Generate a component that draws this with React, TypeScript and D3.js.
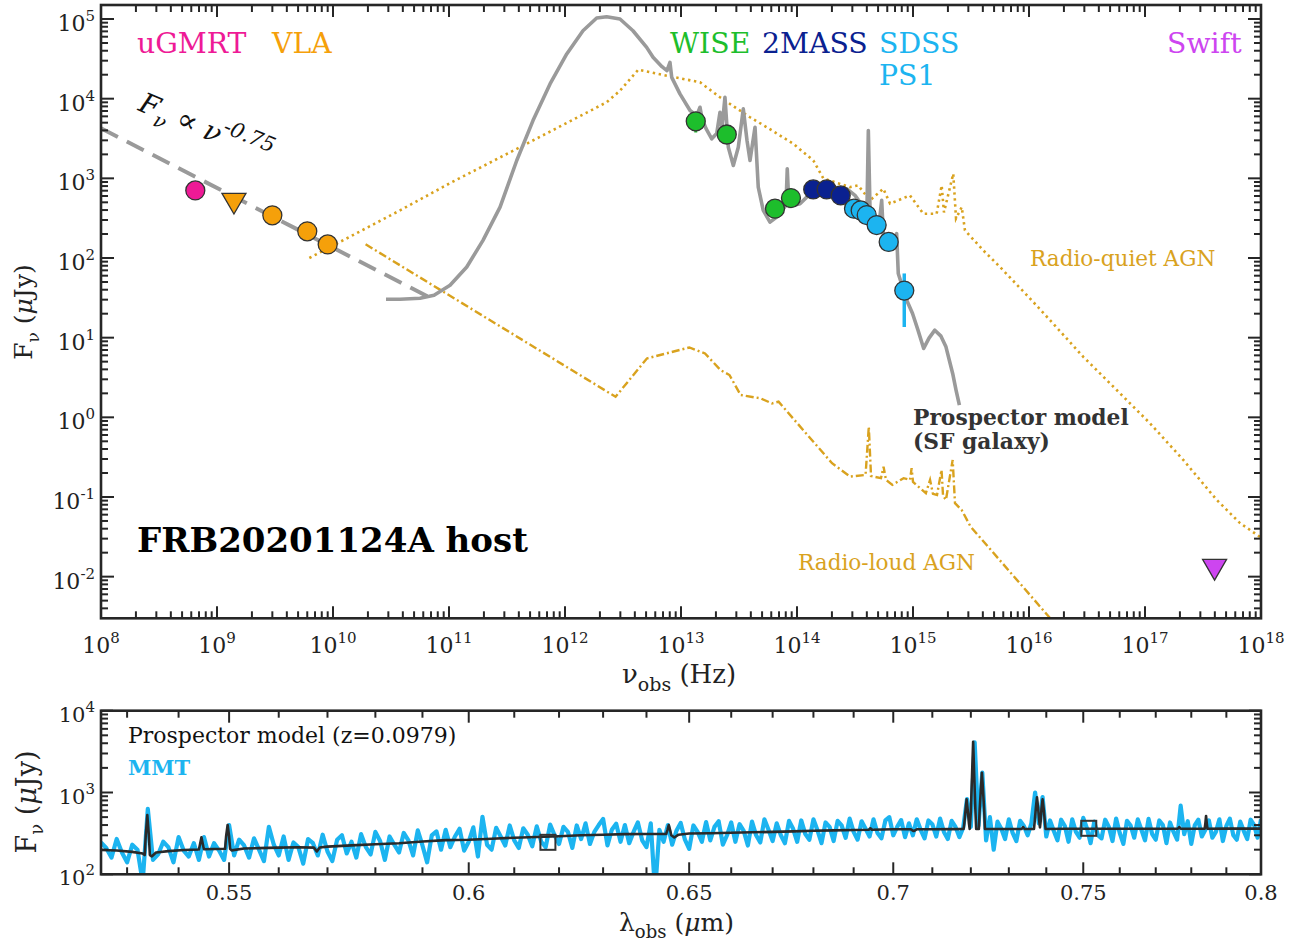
import React from 'react';
import * as d3 from 'd3';

const FONT = "'DejaVu Serif', serif";
const AXIS = '#262626';
const GOLD = '#D9A21E';

// ---- top panel photometry (nu in Hz, flux in uJy)
const uGMRT = [{ nu: 6.5e8, f: 705 }];
const vlaLimit = [{ nu: 1.4e9, f: 480 }];
const vla = [{ nu: 3e9, f: 343 }, { nu: 6e9, f: 216 }, { nu: 9e9, f: 148 }];
const wise = [
  { nu: 1.34e13, f: 5200, lo: 3750, hi: 6650 },
  { nu: 2.48e13, f: 3550 },
  { nu: 6.46e13, f: 416 },
  { nu: 8.87e13, f: 565 },
];
const twoMass = [{ nu: 1.38e14, f: 726 }, { nu: 1.8e14, f: 726 }, { nu: 2.38e14, f: 611 }];
const sdssPs1 = [
  { nu: 3.1e14, f: 416 },
  { nu: 3.54e14, f: 396 },
  { nu: 3.99e14, f: 346 },
  { nu: 4.86e14, f: 259 },
  { nu: 6.17e14, f: 159 },
  { nu: 8.41e14, f: 39, lo: 13.6, hi: 64 },
];
const swiftLimit = [{ nu: 3.98e17, f: 0.0122 }];

// F_nu ∝ nu^-0.75 end points
const powerLaw: [number, number][] = [[1e8, 4256], [7.6e10, 29.4]];

// Prospector SF galaxy model, [log10 nu, log10 F]
const sfModel: [number, number][] = [
  [10.457, 1.482], [10.578, 1.482], [10.75, 1.495], [10.871, 1.532], [11.009, 1.657], [11.153, 1.887],
  [11.293, 2.222], [11.44, 2.639], [11.584, 3.224], [11.724, 3.725], [11.871, 4.185], [12.015, 4.561],
  [12.155, 4.853], [12.273, 5.013], [12.359, 5.029], [12.474, 5.0], [12.586, 4.853], [12.704, 4.644],
  [12.759, 4.519], [12.836, 4.402], [12.879, 4.352], [12.905, 4.456], [12.92, 4.268], [12.991, 4.06],
  [13.078, 3.851], [13.135, 3.788], [13.164, 3.892], [13.181, 3.751], [13.216, 3.625], [13.265, 3.496],
  [13.308, 3.563], [13.336, 3.83], [13.353, 3.625], [13.379, 4.018], [13.408, 3.391], [13.451, 3.162],
  [13.494, 3.391], [13.537, 3.872], [13.569, 3.475], [13.595, 3.224], [13.638, 3.642], [13.666, 2.89],
  [13.709, 2.598], [13.767, 2.451], [13.825, 2.514], [13.905, 2.66], [13.916, 3.12], [13.931, 2.648],
  [14.026, 2.682], [14.084, 2.764], [14.141, 2.848], [14.284, 2.873], [14.428, 2.87], [14.5, 2.786],
  [14.572, 2.639], [14.603, 2.598], [14.615, 3.6], [14.629, 2.639], [14.687, 2.472], [14.716, 2.535],
  [14.73, 2.723], [14.744, 2.306], [14.787, 2.138], [14.836, 2.222], [14.859, 2.306], [14.873, 1.805],
  [14.946, 1.47], [14.996, 1.303], [15.043, 1.094], [15.092, 0.865], [15.138, 0.994], [15.188, 1.094],
  [15.241, 1.019], [15.284, 0.885], [15.342, 0.551], [15.371, 0.342], [15.4, 0.154],
];

// radio-quiet AGN template, [log10 nu, log10 F]
const rqAgn: [number, number][] = [
  [9.796, 2.0], [10.578, 2.598], [11.009, 2.94], [11.612, 3.391], [12.359, 3.955], [12.474, 4.101],
  [12.632, 4.365], [12.877, 4.289], [13.164, 4.206], [13.336, 4.018], [13.595, 3.767], [13.739, 3.642],
  [13.968, 3.434], [14.141, 3.224], [14.227, 2.999], [14.457, 2.89], [14.528, 2.911], [14.629, 2.723],
  [14.744, 2.87], [14.802, 2.682], [14.974, 2.786], [15.089, 2.556], [15.204, 2.556], [15.247, 2.911],
  [15.267, 2.573], [15.347, 3.058], [15.371, 2.497], [15.42, 2.639], [15.448, 2.347], [15.606, 2.096],
  [15.75, 1.887], [16.023, 1.47], [16.181, 1.22], [16.468, 0.759], [16.756, 0.343], [17.043, -0.075],
  [17.33, -0.535], [17.618, -1.036], [17.819, -1.328], [17.991, -1.5],
];

// radio-loud AGN template, [log10 nu, log10 F]
const rlAgn: [number, number][] = [
  [10.281, 2.172], [12.436, 0.258], [12.706, 0.739], [13.072, 0.877], [13.207, 0.802], [13.341, 0.593],
  [13.418, 0.531], [13.514, 0.28], [13.687, 0.238], [13.784, 0.175], [13.841, 0.196], [14.302, -0.576],
  [14.457, -0.744], [14.591, -0.723], [14.619, -0.118], [14.638, -0.736], [14.724, -0.764], [14.746, -0.619],
  [14.767, -0.786], [14.822, -0.848], [14.919, -0.764], [14.974, -0.786], [14.988, -0.639], [15.0, -0.811],
  [15.111, -0.952], [15.147, -0.786], [15.172, -0.961], [15.207, -0.974], [15.246, -0.66], [15.259, -0.986],
  [15.284, -1.036], [15.342, -0.535], [15.362, -1.078], [15.419, -1.162], [15.496, -1.371], [16.181, -2.519],
  [16.612, -3.24],
];

// ---- bottom panel: MMT spectrum on a 0.001 um grid starting at 0.525 um
const mmtStart = 0.525;
const mmtFlux = [
  245, 210, 160, 270, 185, 140, 230, 200, 80, 630,
  150, 175, 250, 215, 140, 285, 195, 165, 240, 150,
  285, 165, 240, 195, 150, 400, 170, 265, 225, 160,
  275, 200, 145, 380, 230, 170, 290, 150, 245, 215,
  135, 270, 240, 170, 305, 190, 145, 265, 300, 180,
  250, 160, 310, 215, 175, 330, 255, 150, 290, 230,
  185, 320, 260, 170, 345, 225, 140, 300, 335, 200,
  350, 215, 290, 360, 195, 250, 375, 165, 505, 230,
  200, 370, 290, 225, 395, 260, 210, 365, 305, 220,
  385, 250, 215, 405, 300, 235, 380, 330, 210, 395,
  270, 420, 235, 330, 400, 475, 225, 350, 415, 250,
  400, 240, 330, 430, 260, 215, 420, 60, 350, 250,
  400, 230, 340, 425, 265, 205, 395, 330, 250, 435,
  260, 380, 445, 230, 300, 430, 250, 410, 340, 225,
  440, 300, 245, 470, 350, 255, 420, 300, 240, 450,
  360, 250, 455, 310, 265, 470, 345, 240, 430, 380,
  255, 450, 395, 280, 480, 330, 265, 445, 360, 290,
  470, 320, 275, 455, 500, 300, 380, 460, 285, 420,
  300, 470, 350, 275, 455, 410, 290, 480, 330, 270,
  450, 380, 285, 370, 830, 380, 4100, 390, 1750, 260,
  500, 200, 440, 360, 270, 470, 320, 255, 450, 390,
  300, 420, 1000, 420, 880, 290, 455, 340, 260, 465,
  390, 250, 470, 330, 280, 490, 365, 240, 440, 300,
  275, 465, 380, 255, 480, 320, 235, 450, 395, 280,
  470, 350, 260, 475, 310, 265, 455, 400, 240, 430,
  330, 265, 690, 310, 445, 235, 400, 465, 290, 350,
  455, 280, 330, 470, 255, 390, 480, 300, 265, 440,
  340, 270, 465, 400, 280, 470,
];

// Prospector model spectrum, [lambda um, F uJy]
const prospectorSpec: [number, number][] = [
  [0.525, 198], [0.528, 195], [0.531, 188], [0.533, 180], [0.5334, 172], [0.5336, 300], [0.5339, 531],
  [0.5342, 300], [0.5344, 172], [0.5348, 166], [0.5356, 185], [0.538, 192], [0.541, 198], [0.544, 201],
  [0.5442, 230], [0.5445, 283], [0.5448, 230], [0.545, 202], [0.547, 204], [0.5492, 205], [0.5494, 290],
  [0.5497, 401], [0.55, 290], [0.5502, 205], [0.5505, 196], [0.553, 207], [0.556, 209], [0.56, 212],
  [0.564, 214], [0.5672, 212], [0.5678, 190], [0.5684, 213], [0.57, 218], [0.575, 226], [0.58, 233],
  [0.585, 240], [0.59, 252], [0.595, 262], [0.6, 265], [0.605, 272], [0.61, 280], [0.615, 286],
  [0.62, 292], [0.625, 300], [0.63, 305], [0.635, 310], [0.64, 311], [0.6446, 312], [0.6449, 350],
  [0.6452, 400], [0.6455, 350], [0.6458, 300], [0.6465, 282], [0.6475, 305], [0.65, 315], [0.655, 318],
  [0.66, 322], [0.665, 326], [0.67, 330], [0.675, 335], [0.68, 340], [0.685, 344], [0.69, 348],
  [0.6938, 350], [0.6942, 365], [0.6946, 350], [0.7, 355], [0.7045, 355], [0.7052, 338], [0.706, 355],
  [0.71, 356], [0.715, 357], [0.7181, 358], [0.7183, 420], [0.7186, 600], [0.7189, 826], [0.7192, 600],
  [0.7195, 420], [0.7197, 358], [0.72, 585], [0.7203, 1560], [0.7206, 4180], [0.7209, 1560], [0.7212, 585],
  [0.7214, 358], [0.7221, 358], [0.7223, 600], [0.7226, 1050], [0.7229, 1746], [0.7232, 1050], [0.7235, 600],
  [0.7237, 358], [0.726, 358], [0.73, 358], [0.7334, 358], [0.7338, 378], [0.7342, 358], [0.7367, 358],
  [0.7369, 450], [0.7372, 650], [0.7375, 873], [0.7378, 650], [0.7381, 450], [0.7383, 375], [0.7385, 450],
  [0.7387, 630], [0.739, 826], [0.7393, 630], [0.7396, 450], [0.7398, 358], [0.745, 360], [0.75, 360],
  [0.76, 360], [0.77, 360], [0.7762, 360], [0.7766, 378], [0.777, 360], [0.7838, 360], [0.784, 420],
  [0.7842, 517], [0.7844, 420], [0.7846, 360], [0.79, 362], [0.8, 362],
];

// broadband points on the spectrum (r, i)
const specPhot = [{ lam: 0.6175, f: 246 }, { lam: 0.7515, f: 365 }];

const C = {
  ugmrt: '#EE1A96', vla: '#F5A00A', wise: '#1DBE2C', twomass: '#0A2190',
  sdss: '#1CB4F0', swift: '#CD45F0', gray: '#9A9A9A',
};

const Pow = ({ e, size = 22, sup = 15 }: { e: number | string; size?: number; sup?: number }) => (
  <>
    10<tspan dy={-size * 0.45} fontSize={sup}>{e}</tspan>
  </>
);

export default function App() {
  // top panel geometry
  const L = 101, R = 1261, T = 5, B = 618.3;
  const x = d3.scaleLog().domain([1e8, 1e18]).range([L, R]);
  const y = d3.scaleLog().domain([3e-3, 1.5e5]).range([B, T]);
  // bottom panel geometry
  const T2 = 710.7, B2 = 874.3;
  const x2 = d3.scaleLog().domain([0.525, 0.8]).range([L, R]);
  const y2 = d3.scaleLog().domain([100, 10000]).range([B2, T2]);

  const logLine = d3.line<[number, number]>().x(d => x(10 ** d[0])).y(d => y(10 ** d[1]));
  const linLine = d3.line<[number, number]>().x(d => x(d[0])).y(d => y(d[1]));
  const specLine = d3.line<[number, number]>().x(d => x2(d[0])).y(d => y2(d[1]));

  const mmt: [number, number][] = mmtFlux.map((f, i) => [mmtStart + i * 0.001, f]);

  const xMaj = d3.range(8, 19).map(e => 10 ** e);
  const xMin: number[] = [];
  d3.range(8, 18).forEach(e => d3.range(2, 10).forEach(m => xMin.push(m * 10 ** e)));
  const yMajE = d3.range(-2, 6);
  const yMin: number[] = [];
  d3.range(-3, 6).forEach(e => d3.range(2, 10).forEach(m => {
    const v = m * 10 ** e;
    if (v > 3e-3 && v < 1.5e5) yMin.push(v);
  }));

  const y2MajE = [2, 3, 4];
  const y2Min: number[] = [];
  [2, 3].forEach(e => d3.range(2, 10).forEach(m => y2Min.push(m * 10 ** e)));
  const x2Maj = [0.55, 0.6, 0.65, 0.7, 0.75, 0.8];
  const x2Min = d3.range(53, 80).filter(v => v % 5 !== 0).map(v => v / 100);

  const tri = (cx: number, cy: number, s: number) =>
    `M${cx - s / 2},${cy - s * 0.43}L${cx + s / 2},${cy - s * 0.43}L${cx},${cy + s * 0.43}Z`;

  const circles = (data: { nu: number; f: number }[], fill: string) =>
    data.map((d, i) => (
      <circle key={i} cx={x(d.nu)} cy={y(d.f)} r={9.5} fill={fill} stroke="#333" strokeWidth={1.3} />
    ));

  return (
    <svg width={1302} height={944} style={{ position: 'absolute', left: 0, top: 0, background: '#fff' }}
      fontFamily={FONT}>
      <defs>
        <clipPath id="clipTop"><rect x={L} y={T} width={R - L} height={B - T} /></clipPath>
        <clipPath id="clipBot"><rect x={L} y={T2} width={R - L} height={B2 - T2} /></clipPath>
      </defs>

      {/* ===== top panel ===== */}
      <g clipPath="url(#clipTop)">
        <path d={logLine(rqAgn) || ''} fill="none" stroke={GOLD} strokeWidth={2.6} strokeDasharray="2.4 3.6" />
        <path d={logLine(rlAgn) || ''} fill="none" stroke={GOLD} strokeWidth={2.4} strokeDasharray="8 3 2 3" />
        <path d={linLine(powerLaw) || ''} fill="none" stroke={C.gray} strokeWidth={4} strokeDasharray="19 10" />
        <path d={logLine(sfModel) || ''} fill="none" stroke={C.gray} strokeWidth={3.6} strokeLinejoin="round" />
        {wise.filter(d => d.lo).map((d, i) => (
          <line key={i} x1={x(d.nu)} x2={x(d.nu)} y1={y(d.lo!)} y2={y(d.hi!)} stroke={C.wise} strokeWidth={3} />
        ))}
        {sdssPs1.filter(d => d.lo).map((d, i) => (
          <line key={i} x1={x(d.nu)} x2={x(d.nu)} y1={y(d.lo!)} y2={y(d.hi!)} stroke={C.sdss} strokeWidth={3.5} />
        ))}
        {circles(uGMRT, C.ugmrt)}
        {vlaLimit.map((d, i) => (
          <path key={i} d={tri(x(d.nu), y(d.f), 24)} fill={C.vla} stroke="#333" strokeWidth={1.3} />
        ))}
        {circles(vla, C.vla)}
        {circles(wise, C.wise)}
        {circles(twoMass, C.twomass)}
        {circles(sdssPs1, C.sdss)}
        {swiftLimit.map((d, i) => (
          <path key={i} d={tri(x(d.nu), y(d.f), 24)} fill={C.swift} stroke="#333" strokeWidth={1.3} />
        ))}
      </g>

      {/* ticks top panel */}
      <g stroke={AXIS} strokeWidth={2}>
        {xMaj.map(v => (
          <g key={'xM' + v}>
            <line x1={x(v)} x2={x(v)} y1={B} y2={B - 12} />
            <line x1={x(v)} x2={x(v)} y1={T} y2={T + 12} />
          </g>
        ))}
        {xMin.map(v => (
          <g key={'xm' + v}>
            <line x1={x(v)} x2={x(v)} y1={B} y2={B - 7} />
            <line x1={x(v)} x2={x(v)} y1={T} y2={T + 7} />
          </g>
        ))}
        {yMajE.map(e => (
          <g key={'yM' + e}>
            <line x1={L} x2={L + 13} y1={y(10 ** e)} y2={y(10 ** e)} />
            <line x1={R} x2={R - 13} y1={y(10 ** e)} y2={y(10 ** e)} />
          </g>
        ))}
        {yMin.map(v => (
          <g key={'ym' + v}>
            <line x1={L} x2={L + 7} y1={y(v)} y2={y(v)} />
            <line x1={R} x2={R - 7} y1={y(v)} y2={y(v)} />
          </g>
        ))}
      </g>
      <rect x={L} y={T} width={R - L} height={B - T} fill="none" stroke={AXIS} strokeWidth={2.6} />

      <g fill="#222" fontSize={22}>
        {xMaj.map((v, i) => (
          <text key={i} x={x(v)} y={653} textAnchor="middle"><Pow e={8 + i} /></text>
        ))}
        {yMajE.map(e => (
          <text key={e} x={95} y={y(10 ** e) + 12} textAnchor="end"><Pow e={e < 0 ? '-' + -e : e} /></text>
        ))}
      </g>

      <text x={622} y={683} fontSize={26} fill="#222">
        ν<tspan dy={8} fontSize={19}>obs</tspan><tspan dy={-8}> (Hz)</tspan>
      </text>
      <text transform="translate(32,312) rotate(-90)" textAnchor="middle" fontSize={25} fill="#222">
        F<tspan dy={7} fontSize={17}>ν</tspan><tspan dy={-7}> (</tspan><tspan fontStyle="italic">μ</tspan>Jy)
      </text>

      {/* annotations */}
      <g fontSize={28.3}>
        <text x={137} y={53} fill={C.ugmrt}>uGMRT</text>
        <text x={272} y={53} fill={C.vla}>VLA</text>
        <text x={670} y={53} fill={C.wise}>WISE</text>
        <text x={762} y={53} fill={C.twomass}>2MASS</text>
        <text x={879} y={53} fill={C.sdss}>SDSS</text>
        <text x={879} y={85} fill={C.sdss}>PS1</text>
        <text x={1167} y={53} fill={C.swift}>Swift</text>
      </g>
      <text transform="translate(137,110) rotate(23)" fontSize={28} fontStyle="italic" fill="#111">
        F<tspan dy={8} fontSize={20}>ν</tspan><tspan dy={-8}> </tspan>
        <tspan fontStyle="normal" fontSize={30}>∝</tspan><tspan> ν</tspan>
        <tspan dy={-13} fontSize={21}>-0.75</tspan>
      </text>
      <text x={1030} y={266} fontSize={21.6} fill={GOLD}>Radio-quiet AGN</text>
      <text x={798} y={570} fontSize={21.6} fill={GOLD}>Radio-loud AGN</text>
      <g fontSize={21.8} fontWeight="bold" fill="#333">
        <text x={913} y={425}>Prospector model</text>
        <text x={913} y={449}>(SF galaxy)</text>
      </g>
      <text x={137} y={552} fontSize={34} fontWeight="bold" fill="#000">FRB20201124A host</text>

      {/* ===== bottom panel ===== */}
      <g clipPath="url(#clipBot)">
        <path d={specLine(mmt) || ''} fill="none" stroke={C.sdss} strokeWidth={4.2} strokeLinejoin="round" />
        <path d={specLine(prospectorSpec) || ''} fill="none" stroke="#2a2a2a" strokeWidth={2.6} strokeLinejoin="round" />
        {specPhot.map((d, i) => (
          <rect key={i} x={x2(d.lam) - 7.5} y={y2(d.f) - 7.5} width={15} height={15} fill="none"
            stroke="#333" strokeWidth={2} />
        ))}
      </g>
      <g stroke={AXIS} strokeWidth={2}>
        {x2Maj.map(v => (
          <g key={'bM' + v}>
            <line x1={x2(v)} x2={x2(v)} y1={B2} y2={B2 - 12} />
            <line x1={x2(v)} x2={x2(v)} y1={T2} y2={T2 + 12} />
          </g>
        ))}
        {x2Min.map(v => (
          <g key={'bm' + v}>
            <line x1={x2(v)} x2={x2(v)} y1={B2} y2={B2 - 7} />
            <line x1={x2(v)} x2={x2(v)} y1={T2} y2={T2 + 7} />
          </g>
        ))}
        {y2MajE.map(e => (
          <g key={'cM' + e}>
            <line x1={L} x2={L + 12} y1={y2(10 ** e)} y2={y2(10 ** e)} />
            <line x1={R} x2={R - 12} y1={y2(10 ** e)} y2={y2(10 ** e)} />
          </g>
        ))}
        {y2Min.map(v => (
          <g key={'cm' + v}>
            <line x1={L} x2={L + 7} y1={y2(v)} y2={y2(v)} />
            <line x1={R} x2={R - 7} y1={y2(v)} y2={y2(v)} />
          </g>
        ))}
      </g>
      <rect x={L} y={T2} width={R - L} height={B2 - T2} fill="none" stroke={AXIS} strokeWidth={2.6} />

      <g fill="#222" fontSize={21}>
        {x2Maj.map(v => (
          <text key={v} x={x2(v)} y={900} textAnchor="middle">{String(v)}</text>
        ))}
        {y2MajE.map(e => (
          <text key={e} x={95} y={y2(10 ** e) + 11} textAnchor="end"><Pow e={e} /></text>
        ))}
      </g>
      <text x={619} y={931} fontSize={25} fill="#222">
        λ<tspan dy={7} fontSize={18}>obs</tspan><tspan dy={-7}> (</tspan><tspan fontStyle="italic">μ</tspan>m)
      </text>
      <text transform="translate(36,802) rotate(-90)" textAnchor="middle" fontSize={27} fill="#222">
        F<tspan dy={7} fontSize={18}>ν</tspan><tspan dy={-7}> (</tspan><tspan fontStyle="italic">μ</tspan>Jy)
      </text>
      <text x={128} y={743} fontSize={22} fill="#111">Prospector model (z=0.0979)</text>
      <text x={128} y={775} fontSize={21} fontWeight="bold" fill={C.sdss}>MMT</text>
    </svg>
  );
}
